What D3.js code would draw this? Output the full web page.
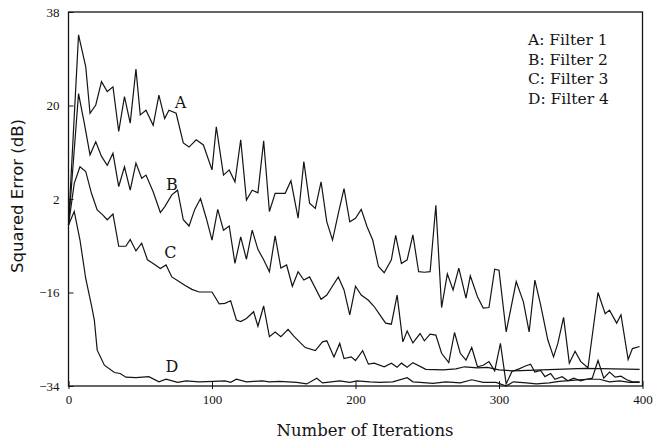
<!DOCTYPE html>
<html>
<head>
<meta charset="utf-8">
<script src="https://cdn.jsdelivr.net/npm/d3@7"></script>
<style>
  body { margin: 0; background: #fff; }
  svg { display: block; }
  .tick text { font-family: "Liberation Serif", serif; font-size: 13px; fill: #111; }
</style>
</head>
<body>
<svg id="chart" width="654" height="443"></svg>
<script>
// iterations / squared error (dB)
var iterA = [0, 7, 12, 15, 19, 23, 27, 31, 35, 39, 43, 47, 50, 54, 59, 63, 67, 70, 75, 80, 84, 89, 94, 100,
    103, 108, 112, 116, 120, 124, 128, 132, 136, 140, 144, 151, 155, 160, 164, 168, 172, 176, 180, 184, 188,
    192, 196, 200, 204, 208, 212, 216, 220, 225, 228, 232, 236, 240, 244, 248, 252, 256, 260, 264, 268, 272,
    277, 280, 285, 289, 293, 297, 300, 305, 312, 317, 321, 325, 329, 334, 338, 341, 345, 349, 353, 357, 362,
    369, 374, 377, 382, 385, 390, 393, 398];
var errA = [-3, 33.6, 27.5, 18.5, 20.1, 24.6, 22.7, 23.6, 15, 21.7, 16.6, 27, 18.2, 19.1, 16.2, 22, 17.5, 19.1,
    18.5, 12.8, 12, 13.4, 12.4, 7.6, 15.9, 6.6, 7.6, 5.3, 13.4, 1.8, 3.7, 3.2, 13.2, -0.4, 3.1, 3.1, 5.5, -1.7,
    9.2, 1.2, 0.2, 5.3, -2.4, -5.9, -0.8, 4, -2.4, -1.7, 0, -3.3, -5.9, -11, -12.2, -9.7, -5, -10.4, -9.7, -4.9,
    -12, -12.1, -12, 0.8, -18.9, -12.4, -15.5, -11.3, -17.1, -12.8, -16.8, -19, -18.9, -11.5, -11.7, -23.6,
    -13.9, -17.8, -23.6, -13.6, -18.4, -25.1, -28.4, -25.8, -20.8, -29.6, -27.3, -29.3, -30.5, -16, -20.1,
    -19.4, -21.9, -20.3, -28.9, -26.8, -26.4];

var iterB = [0, 7, 11, 15, 19, 23, 27, 31, 35, 39, 43, 47, 51, 54, 59, 64, 67, 72, 76, 80, 84, 88, 92, 96, 100,
    104, 108, 112, 116, 120, 124, 128, 132, 136, 140, 144, 148, 152, 156, 160, 164, 168, 176, 180, 188, 192, 196,
    200, 204, 209, 213, 217, 221, 225, 229, 233, 236, 240, 245, 248, 252, 256, 260, 265, 269, 273, 277, 281, 285,
    289, 293, 297, 301, 305, 309, 314, 318, 322, 325, 329, 332, 336, 339, 344, 348, 352, 357, 361, 365, 369, 373,
    377, 381, 385, 389, 393, 398];
var errB = [-3, 22.3, 16.6, 10.5, 13, 10.2, 8.5, 10.8, 4.4, 8.2, 3.7, 8.9, 6, 6.6, 3.4, -0.6, 0.5, 2.8, 3.7, -2,
    -3.2, 0, 2.1, -1.7, -5.9, 0, -4, -3.2, -10.4, -5.3, -9.6, -4, -7.7, -9.7, -12, -5.1, -11.3, -10.7, -14.8,
    -12, -13.6, -13, -17.3, -16.5, -13, -15.5, -20.3, -14.8, -16.5, -17.5, -18.7, -20.3, -21.9, -22.1, -16.5,
    -25.5, -23.4, -25.7, -23.9, -25.3, -24, -24.2, -27.7, -29.5, -23.7, -27.7, -29, -26.6, -30.3, -30, -29.3,
    -31.1, -25.8, -33.6, -31.2, -30.7, -30.2, -29.8, -31.3, -31, -32.2, -31.6, -32.7, -32.2, -33, -32.5, -33,
    -32.7, -32.5, -29.1, -32.5, -31.3, -32.3, -32.1, -32.8, -33.2, -33.2];

var iterC = [0, 4, 8, 12, 16, 20, 24, 27, 31, 35, 40, 43, 47, 51, 55, 59, 64, 68, 72, 77, 81, 86, 91, 100, 105,
    109, 113, 117, 120, 124, 129, 132, 136, 140, 144, 148, 153, 157, 161, 165, 172, 177, 180, 185, 189, 192, 197,
    200, 205, 209, 213, 220, 225, 229, 232, 236, 240, 249, 261, 270, 276, 285, 292, 300, 310, 320, 340, 360, 380,
    398];
var errC = [-3, 5, 8.2, 7.3, 3.1, -0.1, -1.1, -2, -0.9, -7.1, -7.1, -5.8, -8, -6.5, -9.7, -10.4, -11.4, -10.7,
    -13, -13.9, -14.6, -15.4, -15.9, -15.9, -18.2, -18.1, -17.6, -21.3, -21.6, -21, -19.7, -22.5, -18.6, -24.5,
    -23.6, -24.5, -23.1, -24.4, -25.5, -26.6, -27.2, -25.5, -25.3, -28.4, -25.8, -28.7, -28.4, -29.1, -27.2,
    -29.8, -29.6, -30.3, -29.6, -30.4, -29.6, -30.4, -29.5, -30.8, -30.9, -30.7, -30.3, -30.5, -30.4, -30.9,
    -31.1, -31, -30.8, -30.6, -30.7, -30.8];

var iterD = [0, 4, 8, 12, 16, 18, 20, 25, 32, 36, 40, 47, 56, 63, 68, 76, 82, 91, 101, 109, 113, 117, 124, 129,
    135, 140, 147, 159, 166, 173, 177, 183, 189, 196, 201, 210, 217, 226, 236, 240, 245, 254, 263, 273, 281, 289,
    298, 305, 310, 319, 326, 335, 342, 351, 361, 370, 377, 384, 391, 398];
var errD = [-3, -0.4, -5.9, -13.3, -18.5, -21.3, -27.1, -30, -31.4, -31.6, -32.3, -32.4, -32.2, -33.2, -32.7,
    -33.3, -33, -33.2, -33.1, -33, -33.3, -32.7, -33.2, -33.1, -33, -33.2, -33.1, -33.3, -33.6, -32.5, -33.4,
    -33.2, -33, -33.3, -33, -33.2, -33.3, -33.2, -32.4, -33.2, -33.3, -33.5, -33.2, -33.4, -32.8, -33.3, -33.3,
    -34, -33.2, -33.4, -33.6, -33.4, -33.1, -32.9, -32.7, -32.7, -33.2, -33, -33.3, -33.3];

var xTicks = [0, 100, 200, 300, 400];
var yTicks = [38, 20, 2, -16, -34];
var curveNames = ["A", "B", "C", "D"];
var legendLabels = ["A: Filter 1", "B: Filter 2", "C: Filter 3", "D: Filter 4"];

var svg = d3.select("#chart"),
    pLeft = 68.5, pRight = 642.5, pTop = 12, pBottom = 386;

var x = d3.scaleLinear().domain([0, 400]).range([pLeft, pRight]);
var y = d3.scaleLinear().domain([-34, 38]).range([pBottom, pTop]);

var ink = "#141414";

// frame
svg.append("rect")
    .attr("x", pLeft).attr("y", pTop)
    .attr("width", pRight - pLeft).attr("height", pBottom - pTop)
    .attr("fill", "none").attr("stroke", ink).attr("stroke-width", 1.3);

// axes
var xAxis = svg.append("g")
    .attr("transform", "translate(0," + pBottom + ")")
    .call(d3.axisBottom(x).tickValues(xTicks).tickSize(-5).tickPadding(9).tickSizeOuter(0));
xAxis.select(".domain").remove();
xAxis.selectAll(".tick line").attr("stroke", ink).attr("y2", -5).attr("y1", 3);
xAxis.selectAll(".tick text").attr("y", 9);

var yAxis = svg.append("g")
    .attr("transform", "translate(" + pLeft + ",0)")
    .call(d3.axisLeft(y).tickValues(yTicks).tickSize(-5).tickPadding(8).tickSizeOuter(0));
yAxis.select(".domain").remove();
yAxis.selectAll(".tick line").attr("stroke", ink);
yAxis.selectAll(".tick text").attr("x", -9);

// curves
var line = d3.line().x(function(d) { return x(d[0]); }).y(function(d) { return y(d[1]); });
var series = [
    {name: "A", pts: d3.zip(iterA, errA)},
    {name: "B", pts: d3.zip(iterB, errB)},
    {name: "C", pts: d3.zip(iterC, errC)},
    {name: "D", pts: d3.zip(iterD, errD)}
];

svg.append("g").selectAll("path")
    .data(series)
    .enter().append("path")
    .attr("d", function(d) { return line(d.pts); })
    .attr("fill", "none")
    .attr("stroke", ink)
    .attr("stroke-width", 1.2)
    .attr("stroke-linejoin", "miter");

// letters next to curves
var tagIter = [78, 72, 71, 72];
var tagErr = [19.5, 3.8, -9.3, -31.4];
svg.append("g").selectAll("text")
    .data(curveNames)
    .enter().append("text")
    .attr("x", function(d, i) { return x(tagIter[i]); })
    .attr("y", function(d, i) { return y(tagErr[i]); })
    .attr("text-anchor", "middle")
    .attr("font-family", "DejaVu Serif, serif")
    .attr("font-size", 16)
    .attr("fill", ink)
    .text(function(d) { return d; });

// legend
svg.append("g").selectAll("text")
    .data(legendLabels)
    .enter().append("text")
    .attr("x", 528)
    .attr("y", function(d, i) { return 45 + i * 19.5; })
    .attr("font-family", "DejaVu Serif, serif")
    .attr("font-size", 15.5)
    .attr("fill", ink)
    .text(function(d) { return d; });

// axis titles
svg.append("text")
    .attr("x", 365)
    .attr("y", 436)
    .attr("text-anchor", "middle")
    .attr("font-family", "DejaVu Serif, serif")
    .attr("font-size", 16.5)
    .attr("fill", ink)
    .text("Number of Iterations");

svg.append("text")
    .attr("transform", "translate(23,196) rotate(-90)")
    .attr("text-anchor", "middle")
    .attr("font-family", "DejaVu Sans, sans-serif")
    .attr("font-size", 16.5)
    .attr("fill", ink)
    .text("Squared Error (dB)");
</script>
</body>
</html>
